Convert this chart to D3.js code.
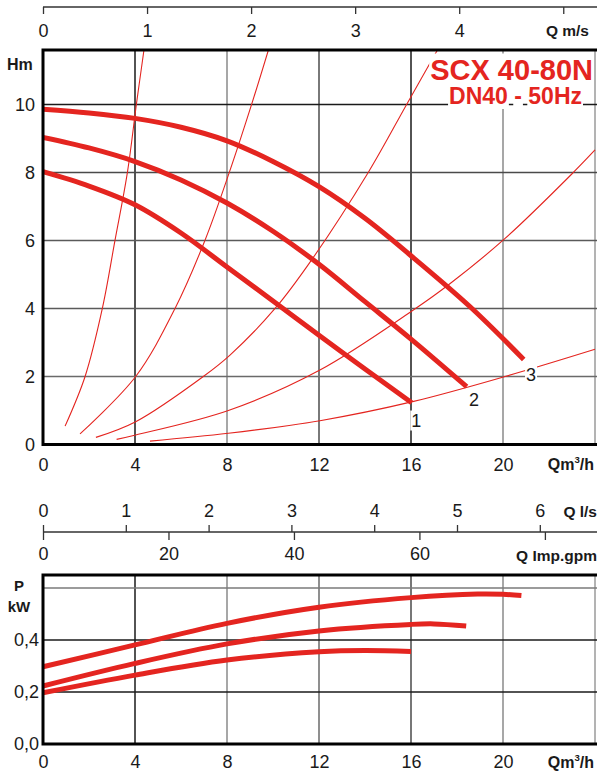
<!DOCTYPE html>
<html>
<head>
<meta charset="utf-8">
<script src="https://cdn.jsdelivr.net/npm/d3@7"></script>
<style>
  body { margin: 0; background: #fff; }
  svg { display: block; font-family: "Liberation Sans", Arial, Helvetica, sans-serif; }
</style>
</head>
<body>
<div id="chart"></div>
<script>
// flow in m3/h, head in m, power in kW
const flowTicks = [0, 4, 8, 12, 16, 20];
const headTicks = [0, 2, 4, 6, 8, 10];
const powerTicks = [0, 0.2, 0.4];
const powerTickLabels = ["0,0", "0,2", "0,4"];
const velocityTicks = [0, 1, 2, 3, 4, 5];      // m/s, last one unlabelled
const litreTicks = [0, 1, 2, 3, 4, 5, 6];      // l/s
const gpmTicks = [0, 20, 40, 60, 80];          // Imp. gpm, last one unlabelled
const speedLabels = ["1", "2", "3"];

// head curves, one per speed
const headQ1 = [0, 2, 4, 6, 8, 10, 12, 14, 16.03];
const headH1 = [8.02, 7.6, 7.05, 6.22, 5.22, 4.22, 3.21, 2.22, 1.23];
const headQ2 = [0, 2, 4, 6, 8, 10, 12, 14, 16, 18.42];
const headH2 = [9.03, 8.72, 8.32, 7.78, 7.1, 6.27, 5.3, 4.2, 3.1, 1.7];
const headQ3 = [0, 2, 4, 6, 8, 10, 12, 14, 16, 18.57, 20.9];
const headH3 = [9.86, 9.75, 9.59, 9.33, 8.93, 8.32, 7.58, 6.65, 5.55, 4.05, 2.5];

// thin system curves
const sysQA = [0.96, 1.83, 2.58, 3.13, 3.67, 4.06, 4.39];
const sysHA = [0.54, 2.0, 4.0, 6.0, 8.0, 10.0, 11.6];
const sysQB = [1.61, 4.03, 5.74, 7.04, 8.1, 9.07, 9.8];
const sysHB = [0.31, 2.0, 4.0, 6.0, 8.0, 10.0, 11.6];
const sysQC = [2.3, 4.03, 6.97, 8.13, 10.09, 11.68, 14.14, 15.81, 17.15];
const sysHC = [0.21, 0.67, 2.0, 2.63, 4.0, 5.43, 8.0, 10.0, 11.6];
const sysQD = [3.2, 4.03, 8.06, 12.04, 16.07, 17.62, 20.09, 23.06, 24];
const sysHD = [0.15, 0.28, 1.0, 2.19, 3.94, 4.69, 6.06, 8.0, 8.66];
const sysQE = [4.65, 8.06, 12.04, 16.07, 20.09, 24];
const sysHE = [0.1, 0.33, 0.7, 1.26, 2.0, 2.8];

// absorbed power, one per speed
const powQ1 = [0, 4, 8, 12, 14, 16];
const powP1 = [0.197, 0.265, 0.323, 0.355, 0.36, 0.356];
const powQ2 = [0, 4, 8, 12, 16, 17, 18.4];
const powP2 = [0.223, 0.31, 0.385, 0.435, 0.46, 0.462, 0.454];
const powQ3 = [0, 4, 8, 12, 16, 18.9, 20, 20.8];
const powP3 = [0.297, 0.381, 0.464, 0.526, 0.563, 0.577, 0.576, 0.571];

const RED = "#e42520";
const W = 597, H = 771;

// unit conversions to m3/h
const M3H_PER_MS = 4.524;   // DN40 pipe
const M3H_PER_LS = 3.6;
const M3H_PER_GPM = 0.27277;

const svg = d3.select("#chart").append("svg")
  .attr("width", W)
  .attr("height", H);

const x = d3.scaleLinear().domain([0, 24]).range([43, 595]);
const yH = d3.scaleLinear().domain([0, 11.6]).range([444.5, 50]);
const yP = d3.scaleLinear().domain([0, 0.65]).range([744, 575]);
const xVel = d3.scaleLinear().domain([0, 24 / M3H_PER_MS]).range(x.range());
const xLs = d3.scaleLinear().domain([0, 24 / M3H_PER_LS]).range(x.range());
const xGpm = d3.scaleLinear().domain([0, 24 / M3H_PER_GPM]).range(x.range());

// grid colours: the sheet mixes black and grey rules
const topVGrid = { 4: "#1a1a1a", 8: "#8a8a8a", 12: "#4d4d4d", 16: "#1a1a1a", 20: "#8a8a8a", 24: "#9a9a9a" };
const topHGrid = { 2: "#6a6a6a", 4: "#5a5a5a", 6: "#5a5a5a", 8: "#4a4a4a", 10: "#1a1a1a" };
const powVGrid = { 4: "#1a1a1a", 8: "#8a8a8a", 12: "#6a6a6a", 16: "#4a4a4a", 20: "#8a8a8a", 24: "#9a9a9a" };
const powHGrid = { 0.2: "#1a1a1a", 0.4: "#1a1a1a", 0.6: "#7a7a7a" };

function grid(g, vmap, hmap, y) {
  const [y0, y1] = y.range();
  const [x0, x1] = x.range();
  Object.keys(vmap).forEach(k => {
    g.append("line")
      .attr("x1", x(+k)).attr("x2", x(+k))
      .attr("y1", y0).attr("y2", y1)
      .attr("stroke", vmap[k]).attr("stroke-width", 1.5);
  });
  Object.keys(hmap).forEach(k => {
    g.append("line")
      .attr("x1", x0).attr("x2", x1 + 2)
      .attr("y1", y(+k)).attr("y2", y(+k))
      .attr("stroke", hmap[k]).attr("stroke-width", 1.5);
  });
}

function frame(g, y) {
  const [y0, y1] = y.range();
  g.append("path")
    .attr("d", `M${W},${y1}H${x(0)}V${y0}H${W}`)
    .attr("fill", "none")
    .attr("stroke", "#000")
    .attr("stroke-width", 3);
}

function unitLabel(g, px, py, size, main, sup, tail) {
  const t = g.append("text")
    .attr("x", px).attr("y", py)
    .attr("font-size", size).attr("font-weight", "bold")
    .attr("text-anchor", "end")
    .attr("fill", "#1a1a1a");
  t.append("tspan").text(main);
  if (sup) {
    t.append("tspan").attr("font-size", size * 0.6).attr("dy", -7).text(sup);
    t.append("tspan").attr("dy", 7).text(tail);
  }
  return t;
}

function boxedText(g, txt, px, py, size, weight, color, anchor) {
  const gg = g.append("g");
  const t = gg.append("text")
    .attr("x", px).attr("y", py)
    .attr("font-size", size).attr("font-weight", weight)
    .attr("fill", color).attr("text-anchor", anchor)
    .text(txt);
  // one white box per word, so the rules show through the gaps
  const node = t.node();
  let start = 0;
  txt.split(" ").forEach(word => {
    if (word.length) {
      const a = node.getExtentOfChar(start);
      const b = node.getExtentOfChar(start + word.length - 1);
      gg.insert("rect", "text")
        .attr("x", a.x - 1).attr("y", a.y)
        .attr("width", b.x + b.width - a.x + 2).attr("height", a.height)
        .attr("fill", "#fff");
    }
    start += word.length + 1;
  });
}

// ---------- head chart ----------
const headG = svg.append("g");
grid(headG, topVGrid, topHGrid, yH);

headG.append("clipPath").attr("id", "clipTop")
  .append("rect")
  .attr("x", x(0)).attr("y", yH(11.6))
  .attr("width", W - x(0)).attr("height", yH(0) - yH(11.6));

const headLine = d3.line()
  .x(d => x(d[0])).y(d => yH(d[1]))
  .curve(d3.curveCatmullRom.alpha(0.5));

headG.append("g").attr("clip-path", "url(#clipTop)")
  .selectAll("path")
  .data([[sysQA, sysHA], [sysQB, sysHB], [sysQC, sysHC], [sysQD, sysHD], [sysQE, sysHE]])
  .enter().append("path")
  .attr("fill", "none")
  .attr("stroke", RED)
  .attr("stroke-width", 1.1)
  .attr("d", d => headLine(d3.zip(d[0], d[1])));

headG.append("g").attr("clip-path", "url(#clipTop)")
  .selectAll("path")
  .data([[headQ1, headH1], [headQ2, headH2], [headQ3, headH3]])
  .enter().append("path")
  .attr("fill", "none")
  .attr("stroke", RED)
  .attr("stroke-width", 5)
  .attr("d", d => headLine(d3.zip(d[0], d[1])));

frame(headG, yH);

headG.append("g")
  .attr("transform", `translate(0,${yH(0)})`)
  .call(d3.axisBottom(x).tickValues(flowTicks).tickSize(0).tickPadding(14))
  .call(g => g.select(".domain").remove())
  .selectAll("text").attr("font-size", 18).attr("fill", "#1a1a1a").attr("font-family", null);

headG.append("g")
  .attr("transform", `translate(${x(0)},0)`)
  .call(d3.axisLeft(yH).tickValues(headTicks).tickSize(0).tickPadding(8))
  .call(g => g.select(".domain").remove())
  .selectAll("text").attr("font-size", 18).attr("fill", "#1a1a1a").attr("font-family", null);

headG.append("text")
  .attr("x", 7).attr("y", 69.5)
  .attr("font-size", 16).attr("font-weight", "bold").attr("fill", "#1a1a1a")
  .text("Hm");

unitLabel(headG, 594, 470, 16, "Qm", "3", "/h");

// speed numbers at curve ends
const ends = [[headQ1, headH1], [headQ2, headH2], [headQ3, headH3]];
const labelOffset = [[0.2, -0.51], [0.32, -0.39], [0.32, -0.43]];
speedLabels.forEach((s, i) => {
  const q = ends[i][0][ends[i][0].length - 1];
  const h = ends[i][1][ends[i][1].length - 1];
  boxedText(headG, s, x(q + labelOffset[i][0]), yH(h + labelOffset[i][1]) + 6.5, 18, "normal", "#1a1a1a", "middle");
});

// title
boxedText(headG, "SCX 40-80N", 593, 79.5, 29, "bold", RED, "end");
boxedText(headG, "DN40 - 50Hz", 582, 104, 23, "bold", RED, "end");

// velocity axis above
const velAxis = svg.append("g")
  .attr("transform", "translate(0,7)")
  .call(d3.axisBottom(xVel).tickValues(velocityTicks).tickSize(7).tickPadding(10)
    .tickFormat(d => d < 5 ? d : ""))
  .call(g => g.select(".domain").attr("d", `M${x(0)},0H${W}`).attr("stroke", "#333").attr("stroke-width", 1.3));
velAxis.selectAll(".tick line").attr("stroke", "#333").attr("stroke-width", 1.3);
velAxis.selectAll("text").attr("font-size", 18).attr("fill", "#1a1a1a").attr("font-family", null);
unitLabel(svg, 589, 36, 15.5, "Q m/s");

// ---------- secondary flow axes ----------
const axisY = 532;
const lsAxis = svg.append("g")
  .attr("transform", `translate(0,${axisY})`)
  .call(d3.axisTop(xLs).tickValues(litreTicks).tickSize(7).tickPadding(8)
    .tickFormat(d3.format("d")))
  .call(g => g.select(".domain").attr("d", `M${x(0)},0H${W}`).attr("stroke", "#333").attr("stroke-width", 1.3));
lsAxis.selectAll(".tick line").attr("stroke", "#333").attr("stroke-width", 1.3);
lsAxis.selectAll("text").attr("font-size", 18).attr("fill", "#1a1a1a").attr("font-family", null);
unitLabel(svg, 597, 517, 15.5, "Q l/s");

const gpmAxis = svg.append("g")
  .attr("transform", `translate(0,${axisY})`)
  .call(d3.axisBottom(xGpm).tickValues(gpmTicks).tickSize(8).tickPadding(7)
    .tickFormat(d => d < 80 ? d : ""))
  .call(g => g.select(".domain").remove());
gpmAxis.selectAll(".tick line").attr("stroke", "#333").attr("stroke-width", 1.3);
gpmAxis.selectAll("text").attr("font-size", 18).attr("fill", "#1a1a1a").attr("font-family", null);
unitLabel(svg, 597, 561, 15.5, "Q Imp.gpm");

// ---------- power chart ----------
const powG = svg.append("g");
grid(powG, powVGrid, powHGrid, yP);

const powLine = d3.line()
  .x(d => x(d[0])).y(d => yP(d[1]))
  .curve(d3.curveCatmullRom.alpha(0.5));

powG.append("g")
  .selectAll("path")
  .data([[powQ1, powP1], [powQ2, powP2], [powQ3, powP3]])
  .enter().append("path")
  .attr("fill", "none")
  .attr("stroke", RED)
  .attr("stroke-width", 5)
  .attr("d", d => powLine(d3.zip(d[0], d[1])));

frame(powG, yP);

powG.append("g")
  .attr("transform", `translate(0,${yP(0)})`)
  .call(d3.axisBottom(x).tickValues(flowTicks).tickSize(0).tickPadding(11))
  .call(g => g.select(".domain").remove())
  .selectAll("text").attr("font-size", 18).attr("fill", "#1a1a1a").attr("font-family", null);

powG.append("g")
  .attr("transform", `translate(${x(0)},0)`)
  .call(d3.axisLeft(yP).tickValues(powerTicks).tickSize(0).tickPadding(4)
    .tickFormat((d, i) => powerTickLabels[i]))
  .call(g => g.select(".domain").remove())
  .selectAll("text").attr("font-size", 18).attr("fill", "#1a1a1a").attr("font-family", null);

powG.append("text")
  .attr("x", 19).attr("y", 591)
  .attr("text-anchor", "middle")
  .attr("font-size", 15).attr("font-weight", "bold").attr("fill", "#1a1a1a")
  .text("P");
powG.append("text")
  .attr("x", 19).attr("y", 612)
  .attr("text-anchor", "middle")
  .attr("font-size", 15).attr("font-weight", "bold").attr("fill", "#1a1a1a")
  .text("kW");

unitLabel(powG, 594, 768, 16, "Qm", "3", "/h");
</script>
</body>
</html>
